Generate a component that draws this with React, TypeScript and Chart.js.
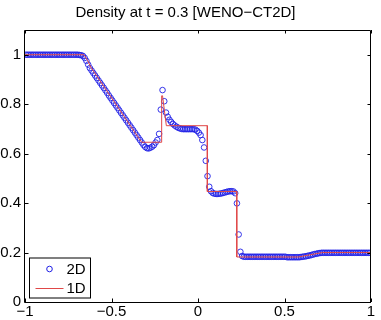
import React, { useEffect, useRef } from "react";
import { Chart, registerables } from "chart.js";

Chart.register(...registerables);

const TITLE = "Density at t = 0.3 [WENO\u2212CT2D]";
const LABEL_2D = "2D";
const LABEL_1D = "1D";

const xTicks = [-1, -0.5, 0, 0.5, 1];
const yTicks = [0, 0.2, 0.4, 0.6, 0.8, 1];

// 2D solution: 200 cells on [-1, 1]
const rho2D = [
  1, 1, 1, 1, 1, 1, 1, 1, 1, 1,
  1, 1, 1, 1, 1, 1, 1, 1, 1, 1,
  1, 1, 1, 1, 1, 1, 1, 1, 1, 1,
  1, 0.999, 0.998, 0.995, 0.987, 0.975, 0.96, 0.946, 0.936, 0.926,
  0.916, 0.906, 0.896, 0.886, 0.876, 0.866, 0.856, 0.846, 0.835, 0.825,
  0.815, 0.805, 0.795, 0.785, 0.775, 0.765, 0.755, 0.745, 0.735, 0.725,
  0.715, 0.705, 0.695, 0.685, 0.675, 0.665, 0.655, 0.645, 0.635, 0.627,
  0.622, 0.621, 0.624, 0.628, 0.634, 0.645, 0.655, 0.68, 0.778, 0.857,
  0.812, 0.766, 0.749, 0.737, 0.728, 0.72, 0.714, 0.709, 0.705, 0.702,
  0.7, 0.699, 0.699, 0.699, 0.699, 0.699, 0.699, 0.699, 0.697, 0.692,
  0.685, 0.675, 0.655, 0.625, 0.571, 0.509, 0.466, 0.448, 0.441, 0.438,
  0.437, 0.437, 0.438, 0.439, 0.441, 0.443, 0.445, 0.447, 0.448, 0.448,
  0.447, 0.44, 0.399, 0.273, 0.203, 0.186, 0.183, 0.183, 0.183, 0.183,
  0.183, 0.183, 0.183, 0.183, 0.183, 0.183, 0.183, 0.183, 0.183, 0.183,
  0.183, 0.183, 0.183, 0.183, 0.183, 0.183, 0.183, 0.183, 0.183, 0.183,
  0.183, 0.181, 0.181, 0.181, 0.181, 0.181, 0.181, 0.181, 0.181, 0.182,
  0.183, 0.184, 0.185, 0.187, 0.188, 0.19, 0.192, 0.194, 0.195, 0.197,
  0.198, 0.199, 0.199, 0.199, 0.199, 0.199, 0.199, 0.199, 0.199, 0.199,
  0.199, 0.199, 0.199, 0.199, 0.199, 0.199, 0.199, 0.199, 0.199, 0.199,
  0.199, 0.199, 0.199, 0.199, 0.199, 0.199, 0.199, 0.199, 0.199, 0.199,
];
const MESH_START = -1;
const MESH_DX = 0.01;

// 1D reference solution
const x1D = [-1, -0.66, -0.64, -0.62, -0.326, -0.21, -0.21, -0.205, -0.183, 0.054, 0.054, 0.224, 0.224, 0.58, 0.72, 1];
const rho1D = [1, 1, 0.98, 0.95, 0.646, 0.646, 0.834, 0.834, 0.713, 0.713, 0.447, 0.447, 0.182, 0.182, 0.2, 0.2];

const FONT = "'Liberation Sans', Arial, Helvetica, sans-serif";
const BLUE = "#1f1fe6";
const RED = "#e04848";

const fmt = (v: number) => {
  const s = String(Math.round(v * 100) / 100);
  return s.replace("-", "\u2212");
};

const framePlugin = {
  id: "matlabFrame",
  afterDatasetsDraw(chart: any) {
    const { ctx, chartArea: a, scales } = chart;
    const xs = scales.x;
    const ys = scales.y;
    const tl = 3.5;
    ctx.save();
    ctx.strokeStyle = "#000";
    ctx.lineWidth = 1;
    ctx.beginPath();
    ctx.rect(Math.round(a.left) - 0.5, Math.round(a.top) + 0.5, Math.round(a.right - a.left), Math.round(a.bottom - a.top));
    ctx.stroke();
    ctx.beginPath();
    xTicks.forEach((v) => {
      const px = Math.round(xs.getPixelForValue(v)) + 0.5;
      ctx.moveTo(px, a.bottom);
      ctx.lineTo(px, a.bottom - tl);
      ctx.moveTo(px, a.top);
      ctx.lineTo(px, a.top + tl);
    });
    yTicks.forEach((v) => {
      const py = Math.round(ys.getPixelForValue(v)) + 0.5;
      ctx.moveTo(a.left, py);
      ctx.lineTo(a.left + tl, py);
      ctx.moveTo(a.right, py);
      ctx.lineTo(a.right - tl, py);
    });
    ctx.stroke();

    // legend
    const bx = a.left + 4.5;
    const by = a.bottom - 44;
    const bw = 61;
    const bh = 40;
    ctx.fillStyle = "#fff";
    ctx.fillRect(bx, by, bw, bh);
    ctx.strokeStyle = "#000";
    ctx.strokeRect(bx, by, bw, bh);
    const row1 = by + 11;
    const row2 = by + 30.5;
    ctx.strokeStyle = BLUE;
    ctx.lineWidth = 1;
    ctx.beginPath();
    ctx.arc(bx + 20, row1, 2.8, 0, Math.PI * 2);
    ctx.stroke();
    ctx.strokeStyle = RED;
    ctx.lineWidth = 1;
    ctx.beginPath();
    ctx.moveTo(bx + 6, row2);
    ctx.lineTo(bx + 34, row2);
    ctx.stroke();
    ctx.fillStyle = "#000";
    ctx.font = `15px ${FONT}`;
    ctx.textAlign = "left";
    ctx.textBaseline = "middle";
    ctx.fillText(LABEL_2D, bx + 37, row1 + 0.5);
    ctx.fillText(LABEL_1D, bx + 37, row2 + 0.5);
    ctx.restore();
  },
};

export default function App() {
  const ref = useRef<HTMLCanvasElement | null>(null);
  useEffect(() => {
    document.body.style.margin = "0";
    const canvas = ref.current!;
    const pts2D = rho2D.map((y, i) => ({ x: MESH_START + MESH_DX * (i + 0.5), y }));
    const pts1D = x1D.map((x, i) => ({ x, y: rho1D[i] }));
    const chart = new Chart(canvas, {
      type: "scatter",
      data: {
        datasets: [
          {
            label: LABEL_1D,
            data: pts1D,
            showLine: true,
            borderColor: RED,
            borderWidth: 1,
            pointRadius: 0,
            fill: false,
            order: 0,
          } as any,
          {
            label: LABEL_2D,
            data: pts2D,
            showLine: false,
            pointStyle: "circle",
            pointRadius: 2.8,
            pointBorderWidth: 0.9,
            borderColor: BLUE,
            backgroundColor: "rgba(0,0,0,0)",
            order: 1,
          } as any,
        ],
      },
      options: {
        animation: false,
        responsive: false,
        devicePixelRatio: 1,
        events: [],
        layout: { padding: { left: 0, right: 10, top: 0, bottom: 0 } },
        plugins: {
          legend: { display: false },
          tooltip: { enabled: false },
          title: {
            display: true,
            text: TITLE,
            color: "#000",
            font: { family: FONT, size: 15, weight: "normal" },
            padding: { top: 4, bottom: 8 },
          },
        },
        scales: {
          x: {
            type: "linear",
            min: -1,
            max: 1,
            grid: { display: false, drawTicks: false },
            border: { display: false },
            afterBuildTicks: (s: any) => {
              s.ticks = xTicks.map((v) => ({ value: v }));
            },
            afterFit: (s: any) => {
              s.height = 18;
            },
            ticks: {
              color: "#000",
              font: { family: FONT, size: 15 },
              padding: 1,
              maxRotation: 0,
              autoSkip: false,
              callback: (v: any) => fmt(Number(v)),
            },
          },
          y: {
            type: "linear",
            min: 0,
            max: 1.1,
            grid: { display: false, drawTicks: false },
            border: { display: false },
            afterBuildTicks: (s: any) => {
              s.ticks = yTicks.map((v) => ({ value: v }));
            },
            afterFit: (s: any) => {
              s.width = 25;
            },
            ticks: {
              color: "#000",
              font: { family: FONT, size: 15 },
              padding: 4,
              autoSkip: false,
              callback: (v: any) => fmt(Number(v)),
            },
          },
        },
      },
      plugins: [framePlugin],
    });
    return () => chart.destroy();
  }, []);
  return (
    <div style={{ width: 381, height: 320, background: "#fff" }}>
      <canvas ref={ref} width={381} height={320} />
    </div>
  );
}
